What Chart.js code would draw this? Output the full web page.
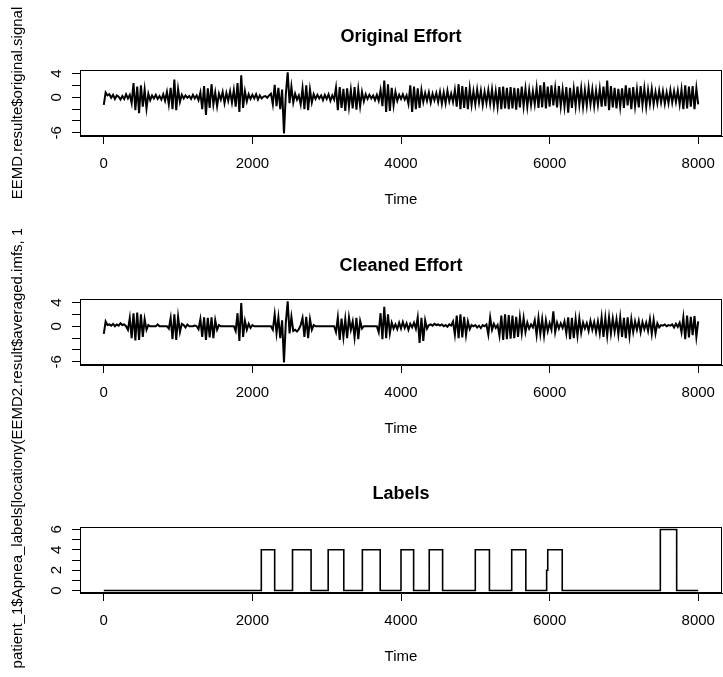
<!DOCTYPE html>
<html lang="en">
<head>
  <meta charset="UTF-8">
  <title>Original Effort / Cleaned Effort / Labels</title>
  <script src="https://cdn.jsdelivr.net/npm/chart.js"></script>
  <style>
    body { margin: 0; background: #fff; }
    #page { position: relative; width: 723px; height: 677px; overflow: hidden; background: #fff; }
    canvas { position: absolute; left: 0; }
  </style>
</head>
<body>
  <div id="page">
    <canvas id="originalChart" width="723" height="229" style="top:0px"></canvas>
    <canvas id="cleanedChart" width="723" height="229" style="top:229px"></canvas>
    <canvas id="labelsChart" width="723" height="232" style="top:445px"></canvas>
  </div>

  <script>
    // one value every 25 time units, t = 0 .. 8000
    const sampleStep = 25;

    const originalSignal = [
      -1.3, 0.8, 0.3, 0.5, -0.1, 0.4, -0.3, 0.3, 0.1, -0.4,
      0.2, -0.3, 0.5, -0.2, 0.4, -1.0, 2.4, -2.2, 1.8, -2.7,
      2.0, -1.6, 1.3, -1.9, 0.6, -0.5, 0.3, -0.2, 0.4, -0.3,
      0.2, -0.4, 0.5, -0.6, 0.9, -1.2, 1.6, -2.0, 3.0, -2.2,
      1.4, -0.8, 0.4, -0.2, 0.3, -0.1, 0.2, -0.3, 0.4, -0.2,
      0.3, -0.5, 0.8, -2.0, 1.9, -3.0, 1.5, -1.8, 2.2, -1.2,
      0.8, -1.5, 0.6, -0.4, 0.9, -1.0, 0.7, -0.6, 1.0, -0.9,
      1.2, -1.6, 2.4, -2.5, 3.7, -1.8, 1.0, -0.7, 0.5, -0.3,
      0.4, -0.2, 0.5, -0.4, 0.3, -0.2, 0.1, 0.2, -0.1, 0.3,
      0.6, -1.2, 2.1, -1.5, 1.6, -2.0, 1.3, -6.1, 0.5, 4.2,
      -1.0, 1.8, -0.9, 0.6, -0.4, 0.3, -1.2, 1.5, -2.0, 2.0,
      -2.2, 1.3, -0.9, 0.5, -0.3, 0.4, -0.2, 0.3, -0.5, 0.4,
      -0.3, 0.5, -0.6, 0.3, -0.4, 1.6, -2.2, 1.7, -1.8, 1.4,
      -2.3, 1.5, -1.6, 1.2, -1.9, 1.7, -2.1, 1.3, -1.5, 0.9,
      -0.7, 0.5, -0.3, 0.4, -0.2, 0.3, -0.5, 0.4, -0.6, 1.2,
      -1.5, 2.8, -2.5, 2.2, -2.3, 1.6, -1.4, 0.9, -0.6, 0.4,
      -0.3, 0.5, -0.4, 0.3, -1.1, 2.0, -2.5, 1.8, -2.0, 1.5,
      -1.8, 1.2, -0.8, 0.7, -0.6, 0.8, -0.9, 0.6, -0.5, 0.7,
      -0.8, 0.9, -1.1, 0.8, -1.0, 1.1, -0.7, 0.6, -0.8, 1.2,
      -1.6, 2.2, -2.0, 1.9, -1.8, 1.7, -2.0, 1.5, -1.3, 1.0,
      -1.2, 1.3, -0.9, 1.1, -1.3, 0.9, -1.0, 1.2, -1.1, 1.3,
      -1.4, 1.0, -1.6, 1.7, -2.0, 1.8, -1.9, 1.6, -2.0, 1.7,
      -1.9, 1.6, -2.1, 1.5, -1.7, 1.8, -1.5, 1.4, -1.6, 1.2,
      -1.3, 1.0, -1.2, 1.6, -1.8, 2.0, -1.7, 2.5, -1.9, 1.8,
      -1.6, 2.0, -1.4, 1.5, -1.7, 1.9, -1.5, 1.3, -1.6, 1.7,
      -2.6, 1.6, -1.8, 1.4, -1.5, 1.8, -1.3, 1.5, -1.6, 1.2,
      -1.4, 1.6, -1.2, 1.3, -1.5, 1.1, -1.3, 1.4, -1.6, 1.8,
      -1.5, 2.8, -2.2, 1.9, -1.7, 1.6, -1.9, 1.4, -1.6, 1.5,
      -1.8, 2.0, -1.4, 1.6, -2.0, 1.7, -1.5, 1.3, -1.7, 1.9,
      -1.3, 1.5, -1.6, 1.2, -1.1, 1.4, -1.2, 0.9, -1.0, 1.1,
      -0.9, 1.0, -1.1, 0.8, -1.0, 1.2, -0.9, 1.0, -0.8, 1.1,
      -1.2, 1.3, -2.0, 2.0, -1.9, 1.8, -1.6, 1.9, -2.0, 1.5,
      -1.2
    ];

    const cleanedSignal = [
      -1.3, 0.8, 0.2, 0.3, 0.1, 0.4, 0.0, 0.3, 0.1, 0.5,
      0.2, 0.3, 0.0, -0.6, 1.4, -2.0, 2.2, -2.4, 2.3, -2.3,
      2.0, -1.8, 1.2, -0.6, 0.2, 0.0, 0.0, 0.0, 0.0, 0.3,
      0.0, 0.0, 0.0, 0.0, 0.0, -0.4, 1.4, -2.2, 2.0, -2.3,
      1.6, -1.0, 0.4, 0.2, -0.2, 0.3, 0.0, 0.0, 0.0, 0.1,
      0.0, -0.5, 1.2, -1.8, 1.5, -2.3, 1.4, -1.9, 1.5, -2.0,
      1.0, -0.6, 0.2, 0.0, 0.0, 0.0, 0.0, 0.0, 0.0, 0.0,
      0.0, -0.8, 2.2, -2.5, 3.9, -1.8, 0.9, -0.6, 0.4, -0.3,
      0.2, 0.0, 0.0, 0.0, 0.0, 0.0, 0.0, 0.0, 0.0, 0.0,
      0.0, -0.6, 2.0, -1.2, 1.5, -2.0, 1.0, -6.1, 0.6, 4.2,
      -1.2, 1.6, -0.8, -0.6, -0.9, -0.5, 0.2, 1.4, -1.8, 1.6,
      -2.0, 1.2, -0.6, 0.2, 0.0, 0.0, 0.0, 0.0, 0.0, 0.0,
      0.0, 0.0, 0.0, 0.0, 0.0, -1.0, 1.5, -2.3, 1.3, -1.8,
      1.2, -2.0, 1.5, -0.6, 0.8, -1.9, 1.4, -2.2, 0.9, -0.4,
      0.0, 0.0, 0.0, 0.0, 0.0, 0.0, 0.0, 0.0, -1.0, 2.2,
      -2.2, 3.3, -2.0, 2.0, -1.2, 0.6, -0.4, 0.3, -0.5, 0.6,
      -0.4, 0.7, -0.3, 0.5, -0.6, 0.4, -0.2, 0.6, -0.4, 1.5,
      -2.8, 1.4, -2.5, 1.0, -0.4, 0.2, 0.3, 0.1, 0.4, 0.2,
      0.3, 0.1, 0.3, 0.0, 0.2, -0.1, 0.3, 0.1, 0.8, -1.4,
      1.8, -2.0, 2.0, -1.9, 1.6, -1.5, 0.8, -0.5, 0.2, 0.0,
      0.2, -0.2, 0.1, -0.3, 0.2, 0.0, 0.3, -1.4, 1.5, -0.6,
      0.4, -0.3, 0.2, -1.6, 1.8, -2.3, 2.0, -2.2, 1.9, -2.1,
      1.8, -2.0, 1.6, -1.8, 1.5, -1.2, 1.4, -1.0, 0.6, -0.4,
      0.3, -0.2, 1.0, -1.5, 1.4, -1.3, 1.2, -1.6, 1.0, -0.8,
      0.5, -0.6, 2.5, -1.0, 0.6, -0.4, 0.5, -0.3, 0.8, -1.2,
      1.5, -2.2, 1.4, -2.0, 1.2, -1.6, 1.3, -1.1, 0.6, -0.4,
      0.5, -0.8, 0.9, -0.6, 0.7, -1.0, 0.8, -1.2, 1.5, -1.8,
      1.4, -1.6, 1.5, -1.2, 1.3, -0.9, 1.2, -1.4, 1.5, -1.8,
      1.4, -2.0, 1.5, -1.6, 1.2, -1.0, 0.8, -0.6, 0.9, -1.0,
      0.7, -0.5, 0.6, -0.8, 1.2, -1.3, 1.1, -1.2, 0.5, -0.2,
      0.2, 0.1, 0.3, 0.0, 0.2, 0.1, 0.3, -0.2, 0.4, -0.1,
      0.6, -1.0, 1.5, -2.2, 1.8, -1.9, 1.6, -1.5, 1.7, -1.8,
      0.8
    ];

    // apnea label: value changes at these times (step line)
    const labelTimes  = [0, 2120, 2300, 2540, 2790, 3020, 3230, 3480, 3720, 4000, 4170, 4380, 4560,
                         5000, 5190, 5490, 5680, 5960, 5975, 6170, 7490, 7710, 8000];
    const labelValues = [0, 4, 0, 4, 0, 4, 0, 4, 0, 4, 0, 4, 0,
                         4, 0, 4, 0, 2, 4, 0, 6, 0, 0];

    const timeTicks = [0, 2000, 4000, 6000, 8000];
    const effortTicks = [-6, -4, -2, 0, 2, 4];
    const effortTickLabels = ['-6', '', '', '0', '', '4'];
    const labelTicks = [0, 1, 2, 3, 4, 5, 6];
    const labelTickLabels = ['0', '', '2', '', '4', '', '6'];

    const FONT = '"Liberation Sans", Arial, sans-serif';

    // box, main title and y label like base R graphics
    const panelDecor = {
      id: 'panelDecor',
      afterDraw(chart, args, opts) {
        const { ctx, chartArea: a } = chart;
        ctx.save();
        ctx.strokeStyle = '#000';
        ctx.lineWidth = 1;
        ctx.strokeRect(a.left + 0.5, a.top + 0.5, a.right - a.left - 1, a.bottom - a.top - 1);
        ctx.fillStyle = '#000';
        ctx.font = 'bold 18px ' + FONT;
        ctx.textAlign = 'center';
        ctx.textBaseline = 'middle';
        ctx.fillText(opts.title, (a.left + a.right) / 2, a.top - 33);
        // y label, clipped to its own figure strip
        ctx.beginPath();
        ctx.rect(0, opts.clipTop, 40, chart.height - opts.clipTop);
        ctx.clip();
        ctx.font = '15px ' + FONT;
        ctx.translate(18, opts.labelY);
        ctx.rotate(-Math.PI / 2);
        ctx.textAlign = opts.labelAlign;
        ctx.fillText(opts.yLabel, 0, 0);
        ctx.restore();
      }
    };

    function makePanel(id, dataset, yMin, yMax, yTicks, yTickLabels, decor, yPad, off) {
      const h = document.getElementById(id).height;
      return new Chart(document.getElementById(id), {
        type: 'line',
        data: { datasets: [dataset] },
        options: {
          responsive: false,
          animation: false,
          devicePixelRatio: 1,
          parsing: false,
          layout: { padding: { top: 70 + off, right: 1, left: 0, bottom: 0 } },
          plugins: {
            legend: { display: false },
            tooltip: { enabled: false },
            panelDecor: decor
          },
          scales: {
            x: {
              type: 'linear',
              min: -320,
              max: 8320,
              afterBuildTicks: s => { s.ticks = timeTicks.map(v => ({ value: v })); },
              afterFit: s => {
                s.height = h - 136 - off;
                s.paddingLeft = 0;
                s.paddingRight = 0;
              },
              grid: { drawOnChartArea: false, drawTicks: true, tickLength: 8, color: '#000' },
              border: { color: '#000' },
              ticks: {
                color: '#000',
                font: { family: FONT, size: 15 },
                padding: 11,
                maxRotation: 0,
                autoSkip: false,
                callback: v => String(v)
              },
              title: {
                display: true,
                text: 'Time',
                color: '#000',
                font: { family: FONT, size: 15 },
                padding: { top: 0, bottom: h - off - 209 }
              }
            },
            y: {
              min: yMin,
              max: yMax,
              afterBuildTicks: s => { s.ticks = yTicks.map(v => ({ value: v })); },
              afterFit: s => { s.width = 80; },
              grid: { drawOnChartArea: false, drawTicks: true, tickLength: 8, color: '#000' },
              border: { color: '#000' },
              ticks: {
                color: '#000',
                font: { family: FONT, size: 15 },
                minRotation: 90,
                maxRotation: 90,
                autoSkip: false,
                crossAlign: 'center',
                padding: yPad,
                callback: (v, i) => yTickLabels[i]
              }
            }
          }
        },
        plugins: [panelDecor]
      });
    }

    makePanel('originalChart', {
      data: originalSignal.map((v, i) => ({ x: i * sampleStep, y: v })),
      borderColor: '#000',
      borderWidth: 2,
      pointRadius: 0,
      tension: 0
    }, -6.55, 4.6, effortTicks, effortTickLabels,
      { title: 'Original Effort', yLabel: 'EEMD.resulte$original.signal', labelY: 103, labelAlign: 'center', clipTop: 0 }, 8, 0);

    makePanel('cleanedChart', {
      data: cleanedSignal.map((v, i) => ({ x: i * sampleStep, y: v })),
      borderColor: '#000',
      borderWidth: 2,
      pointRadius: 0,
      tension: 0
    }, -6.55, 4.6, effortTicks, effortTickLabels,
      { title: 'Cleaned Effort', yLabel: 'y(EEMD2.result$averaged.imfs, 1', labelY: 223, labelAlign: 'left', clipTop: 0 }, 8, 0);

    makePanel('labelsChart', {
      data: labelTimes.map((t, i) => ({ x: t, y: labelValues[i] })),
      borderColor: '#000',
      borderWidth: 1.6,
      pointRadius: 0,
      stepped: 'before'
    }, -0.24, 6.24, labelTicks, labelTickLabels,
      { title: 'Labels', yLabel: 'patient_1$Apnea_labels[location', labelY: 115, labelAlign: 'center', clipTop: 7 }, 10.5, 12);
  </script>
</body>
</html>
